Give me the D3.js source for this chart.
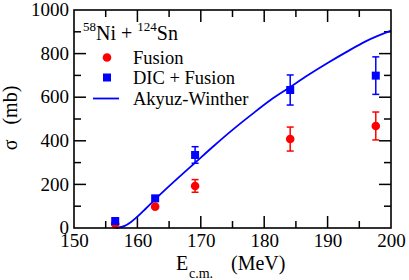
<!DOCTYPE html>
<html>
<head>
<meta charset="utf-8">
<script src="https://cdn.jsdelivr.net/npm/d3@7"></script>
<style>
  body { margin: 0; background: #fff; }
  svg text { font-family: "Times New Roman", "Liberation Serif", Tinos, "DejaVu Serif", Times, serif !important; fill: #000; }
</style>
</head>
<body>
<div class="my_dataviz"></div>
<script>
// data
const energy = [156.5, 162.8, 169.1, 184.1, 197.6]
const fusion = [18, 98, 193, 408, 468]
const fusionErr = [0, 0, 29, 55, 64]
const dicFusion = [32, 136, 335, 633, 699]
const dicErr = [0, 0, 38, 69, 86]

// Akyuz-Winther calculation
const awE = [156.6, 157, 158, 159, 160, 161, 162, 163, 165, 167, 169, 172, 175, 178, 181, 184, 187, 190, 193, 196, 200]
const awSigma = [0, 2, 10, 28, 52, 80, 108, 137, 192, 245, 297, 375, 450, 520, 587, 645, 703, 757, 808, 856, 905]

const xTicks = [150, 160, 170, 180, 190, 200]
const yTicks = [0, 200, 400, 600, 800, 1000]

let margin = {top: 10, right: 18, bottom: 52, left: 74},
    width = 409 - margin.left - margin.right,
    height = 280 - margin.top - margin.bottom;

let svgRoot = d3.select(".my_dataviz")
    .append("svg")
    .attr("width", 409)
    .attr("height", 280)

let svg = svgRoot.append("g")
    .attr("transform", "translate(" + margin.left + "," + margin.top + ")");

let x = d3.scaleLinear().domain([150, 200]).range([0, width]);
let y = d3.scaleLinear().domain([0, 1000]).range([height, 0]);

// ticks, inward on all four sides
const major = 12, minor = 7
const xMinor = d3.range(155, 200, 10)
const yMinor = d3.range(100, 1000, 200)

function tickLines(vals, len, horiz) {
    vals.forEach(function (v) {
        if (horiz) {
            svg.append("line").attr("x1", x(v)).attr("x2", x(v)).attr("y1", height).attr("y2", height - len)
                .attr("stroke", "#000").attr("stroke-width", 1.5)
            svg.append("line").attr("x1", x(v)).attr("x2", x(v)).attr("y1", 0).attr("y2", len)
                .attr("stroke", "#000").attr("stroke-width", 1.5)
        } else {
            svg.append("line").attr("y1", y(v)).attr("y2", y(v)).attr("x1", 0).attr("x2", len)
                .attr("stroke", "#000").attr("stroke-width", 1.5)
            svg.append("line").attr("y1", y(v)).attr("y2", y(v)).attr("x1", width).attr("x2", width - len)
                .attr("stroke", "#000").attr("stroke-width", 1.5)
        }
    })
}
tickLines(xTicks.slice(1, -1), major, true)
tickLines(xMinor, minor, true)
tickLines(yTicks.slice(1, -1), major, false)
tickLines(yMinor, minor, false)

// tick labels via d3 axes
let xAxis = svg.append("g")
    .attr("transform", "translate(0," + height + ")")
    .call(d3.axisBottom(x).tickValues(xTicks).tickFormat(d3.format("d")).tickSize(0).tickPadding(5))
let yAxis = svg.append("g")
    .call(d3.axisLeft(y).tickValues(yTicks).tickFormat(d3.format("d")).tickSize(0).tickPadding(5))
;[xAxis, yAxis].forEach(function (a) {
    a.select(".domain").remove()
    a.attr("font-family", null).attr("font-size", null)
    a.selectAll("text").style("font-size", "19px")
})
xAxis.selectAll("text").attr("dy", "0.74em")
yAxis.selectAll("text").attr("dy", "0.3em")

// curve
svg.append("path")
    .datum(awE.map(function (e, i) { return [e, awSigma[i]] }))
    .attr("fill", "none")
    .attr("stroke", "#0000ff")
    .attr("stroke-width", 1.8)
    .attr("d", d3.line().x(function (d) { return x(d[0]) }).y(function (d) { return y(d[1]) }).curve(d3.curveMonotoneX))

function errBars(vals, errs, color) {
    energy.forEach(function (e, i) {
        if (!errs[i]) return
        let g = svg.append("g").attr("stroke", color).attr("stroke-width", 1.5)
        g.append("line").attr("x1", x(e)).attr("x2", x(e)).attr("y1", y(vals[i] - errs[i])).attr("y2", y(vals[i] + errs[i]))
        g.append("line").attr("x1", x(e) - 3.5).attr("x2", x(e) + 3.5).attr("y1", y(vals[i] - errs[i])).attr("y2", y(vals[i] - errs[i]))
        g.append("line").attr("x1", x(e) - 3.5).attr("x2", x(e) + 3.5).attr("y1", y(vals[i] + errs[i])).attr("y2", y(vals[i] + errs[i]))
    })
}
errBars(fusion, fusionErr, "#ff0000")
errBars(dicFusion, dicErr, "#0000ff")

svg.append("g").selectAll("circle")
    .data(fusion).enter().append("circle")
    .attr("cx", function (d, i) { return x(energy[i]) })
    .attr("cy", function (d) { return y(d) })
    .attr("r", 4.3)
    .style("fill", "#ff0000")

svg.append("g").selectAll("rect")
    .data(dicFusion).enter().append("rect")
    .attr("x", function (d, i) { return x(energy[i]) - 4 })
    .attr("y", function (d) { return y(d) - 4 })
    .attr("width", 8).attr("height", 8)
    .style("fill", "#0000ff")

// frame
svg.append("rect").attr("width", width).attr("height", height)
    .attr("fill", "none").attr("stroke", "#000").attr("stroke-width", 1.6)

// legend
let title = svgRoot.append("text").attr("x", 83).attr("y", 40).style("font-size", "20px")
title.append("tspan").text("58").style("font-size", "13px").attr("dy", -9)
title.append("tspan").text("Ni + ").attr("dy", 9)
title.append("tspan").text("124").style("font-size", "13px").attr("dy", -9)
title.append("tspan").text("Sn").attr("dy", 9)

svgRoot.append("circle").attr("cx", 107).attr("cy", 57.5).attr("r", 4.3).style("fill", "#ff0000")
svgRoot.append("rect").attr("x", 103).attr("y", 73.5).attr("width", 8).attr("height", 8).style("fill", "#0000ff")
svgRoot.append("line").attr("x1", 93).attr("x2", 119).attr("y1", 98.5).attr("y2", 98.5)
    .attr("stroke", "#0000ff").attr("stroke-width", 1.8)
const legendLabels = ["Fusion", "DIC + Fusion", "Akyuz-Winther"]
legendLabels.forEach(function (t, i) {
    svgRoot.append("text").attr("x", 133).attr("y", 63.5 + i * 20.5).style("font-size", "18.5px").text(t)
})

// axis titles
svgRoot.append("text")
    .attr("transform", "translate(17,118) rotate(-90)")
    .attr("text-anchor", "middle")
    .style("font-size", "20px")
    .text("\u03c3\u00a0\u00a0\u00a0(mb)")

let xl = svgRoot.append("text").attr("y", 270).style("font-size", "20px")
xl.append("tspan").attr("x", 176).text("E")
xl.append("tspan").attr("x", 189).attr("dy", 8).style("font-size", "14px").text("c.m.")
xl.append("tspan").attr("x", 231).attr("dy", -8).text("(MeV)")
</script>
</body>
</html>
